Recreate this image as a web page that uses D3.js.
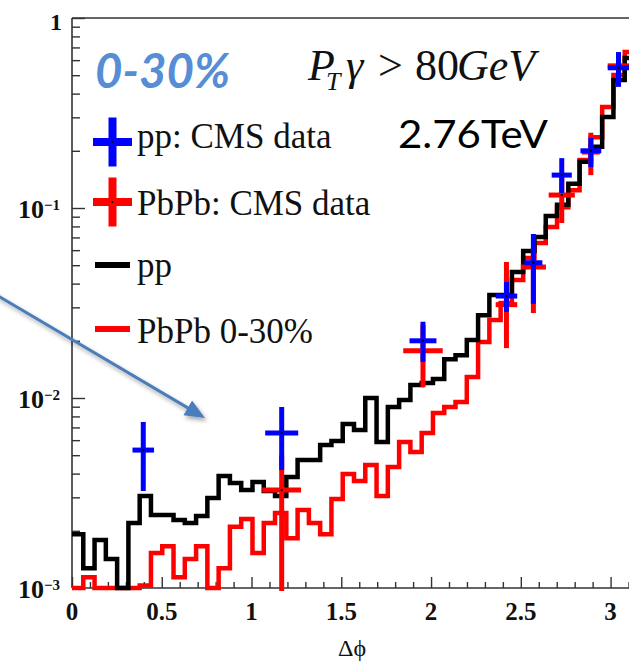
<!DOCTYPE html>
<html>
<head>
<meta charset="utf-8">
<script src="https://cdn.jsdelivr.net/npm/d3@7"></script>
<style>
  html, body { margin: 0; padding: 0; background: #fff; overflow: hidden; }
  svg { display: block; }
</style>
</head>
<body>
<svg id="chart" width="629" height="663"></svg>
<script>
// ---- histogram contents: 50 bins of width pi/50 over [0, pi] ----
const binCount = 50;
const ppHist = [
  1.92e-3, 1.27e-3, 1.79e-3, 1.42e-3, 1.00e-3, 2.20e-3, 3.05e-3, 2.42e-3, 2.42e-3, 2.28e-3,
  2.20e-3, 2.39e-3, 2.98e-3, 3.88e-3, 3.57e-3, 3.28e-3, 3.61e-3, 3.24e-3, 3.05e-3, 3.84e-3,
  4.72e-3, 4.72e-3, 5.66e-3, 5.94e-3, 7.30e-3, 6.79e-3, 1.00e-2, 5.87e-3, 8.97e-3, 9.76e-3,
  1.17e-2, 1.20e-2, 1.26e-2, 1.60e-2, 1.68e-2, 2.02e-2, 2.73e-2, 3.48e-2, 3.48e-2, 4.60e-2,
  5.94e-2, 7.03e-2, 9.08e-2, 0.104, 0.134, 0.175, 0.210, 0.301, 0.472, 0.616
];
const pbpbHist = [
  1.00e-3, 1.14e-3, 1.00e-3, 1.00e-3, 1.00e-3, 1.00e-3, 1.03e-3, 1.53e-3, 1.66e-3, 1.14e-3,
  1.42e-3, 1.66e-3, 1.00e-3, 1.27e-3, 2.10e-3, 2.31e-3, 1.53e-3, 2.20e-3, 2.48e-3, 1.83e-3,
  2.57e-3, 2.20e-3, 1.92e-3, 2.94e-3, 3.98e-3, 3.66e-3, 4.44e-3, 3.05e-3, 4.34e-3, 5.87e-3,
  5.20e-3, 6.55e-3, 8.34e-3, 8.97e-3, 9.53e-3, 1.29e-2, 1.97e-2, 2.57e-2, 3.16e-2, 4.18e-2,
  5.46e-2, 6.54e-2, 7.94e-2, 0.101, 0.124, 0.179, 0.236, 0.340, 0.501, 0.662
];

// ---- CMS data points (value, x half-width, y error band) ----
const ppX    = [0.397, 1.168, 1.955, 2.42, 2.57, 2.728, 2.89, 3.044];
const ppY    = [0.00532, 0.00654, 0.0200, 0.0344, 0.0515, 0.149, 0.200, 0.547];
const ppXerr = [0.060, 0.092, 0.075, 0.060, 0.050, 0.056, 0.058, 0.060];
const ppLow  = [0.00324, 0.00418, 0.0155, 0.0284, 0.0313, 0.120, 0.164, 0.434];
const ppHigh = [0.00748, 0.00897, 0.0252, 0.0408, 0.073, 0.183, 0.234, 0.662];

const pbpbX    = [1.168, 1.955, 2.42, 2.57, 2.728, 2.89, 3.044];
const pbpbY    = [0.00328, 0.01774, 0.031, 0.0489, 0.117, 0.197, 0.56];
const pbpbXerr = [0.108, 0.110, 0.060, 0.070, 0.073, 0.050, 0.060];
const pbpbLow  = [0.0004, 0.0114, 0.0183, 0.028, 0.0834, 0.149, 0.47];
const pbpbHigh = [0.0050, 0.0242, 0.052, 0.062, 0.145, 0.249, 0.65];

// ---- axis ticks ----
const xTickValues = [0, 0.5, 1, 1.5, 2, 2.5, 3];
const xTickLabels = ["0", "0.5", "1", "1.5", "2", "2.5", "3"];
const yTickValues = [1e-3, 1e-2, 1e-1, 1];
const yTickLabels = [["10", "\u22123"], ["10", "\u22122"], ["10", "\u22121"], ["1", ""]];

// ---- legend entries ----
const legendLabels = ["pp: CMS data", "PbPb: CMS data", "pp", "PbPb 0-30%"];
const legendColors = ["#0000ff", "#ff0000", "#000000", "#ff0000"];
const legendKinds  = ["cross", "cross", "line", "line"];

const svg = d3.select("#chart");
const serif = "'Liberation Serif', 'Times New Roman', serif";
const sans = "Lato, 'Open Sans', sans-serif";

const plot = { left: 72, top: 18, bottom: 588, right: 636 };
const x = d3.scaleLinear().domain([0, Math.PI]).range([plot.left, plot.right]);
const y = d3.scaleLog().domain([1e-3, 1]).range([plot.bottom, plot.top]);

const defs = svg.append("defs");
defs.append("clipPath").attr("id", "plotClip")
  .append("rect").attr("x", plot.left).attr("y", 0)
  .attr("width", 640 - plot.left).attr("height", plot.bottom + 3);
const shadow = defs.append("filter").attr("id", "arrowShadow")
  .attr("x", "-20%").attr("y", "-20%").attr("width", "150%").attr("height", "150%");
shadow.append("feDropShadow").attr("dx", 2).attr("dy", 3)
  .attr("stdDeviation", 2).attr("flood-color", "#000").attr("flood-opacity", 0.35);

// ---- axis ticks (inward) ----
const yMinor = [];
for (let e = -3; e < 0; e++) for (let m = 2; m <= 9; m++) yMinor.push(m * Math.pow(10, e));
svg.append("g").attr("transform", `translate(${plot.left},0)`)
  .call(d3.axisRight(y).tickValues(yMinor).tickSize(8).tickFormat(""))
  .call(g => g.select(".domain").remove())
  .call(g => g.selectAll("line").attr("stroke", "#333").attr("stroke-width", 1.4));
svg.append("g").attr("transform", `translate(${plot.left},0)`)
  .call(d3.axisRight(y).tickValues(yTickValues).tickSize(13).tickFormat(""))
  .call(g => g.select(".domain").remove())
  .call(g => g.selectAll("line").attr("stroke", "#333").attr("stroke-width", 1.4));

const xMinor = d3.range(1, 32).map(i => i / 10).filter(v => Math.abs(v * 2 - Math.round(v * 2)) > 1e-6);
svg.append("g").attr("transform", `translate(0,${plot.bottom})`)
  .call(d3.axisTop(x).tickValues(xMinor).tickSize(6).tickFormat(""))
  .call(g => g.select(".domain").remove())
  .call(g => g.selectAll("line").attr("stroke", "#333").attr("stroke-width", 1.4));
svg.append("g").attr("transform", `translate(0,${plot.bottom})`)
  .call(d3.axisTop(x).tickValues(xTickValues).tickSize(11).tickFormat(""))
  .call(g => g.select(".domain").remove())
  .call(g => g.selectAll("line").attr("stroke", "#333").attr("stroke-width", 1.4));

// ---- frame ----
const frame = svg.append("g").attr("stroke", "#333").attr("stroke-width", 1.6).attr("fill", "none");
frame.append("line").attr("x1", plot.left).attr("x2", plot.left).attr("y1", plot.top).attr("y2", plot.bottom);
frame.append("line").attr("x1", plot.left).attr("x2", plot.right).attr("y1", plot.top).attr("y2", plot.top);
frame.append("line").attr("x1", plot.left).attr("x2", plot.right).attr("y1", plot.bottom).attr("y2", plot.bottom);

// ---- tick labels ----
const xl = svg.append("g").attr("font-family", serif).attr("font-weight", "bold")
  .attr("font-size", 25).attr("fill", "#111").attr("text-anchor", "middle");
xTickValues.forEach((v, i) => {
  xl.append("text").attr("x", x(v)).attr("y", 620).text(xTickLabels[i]);
});

const yl = svg.append("g").attr("font-family", serif).attr("font-weight", "bold").attr("fill", "#111");
yTickValues.forEach((v, i) => {
  const [base, sup] = yTickLabels[i];
  if (sup) {
    const t = yl.append("text").attr("x", 18).attr("y", y(v) + 10).attr("font-size", 26);
    t.append("tspan").text(base);
    t.append("tspan").attr("dy", -8).attr("font-size", 15).text(sup);
  } else {
    yl.append("text").attr("x", 62).attr("y", y(v) + 12).attr("font-size", 24)
      .attr("text-anchor", "end").text(base);
  }
});

svg.append("text").attr("x", 352).attr("y", 656).attr("text-anchor", "middle")
  .attr("font-family", serif).attr("font-size", 24).attr("fill", "#111").text("\u0394\u03d5");

// ---- histograms ----
const binW = Math.PI / binCount;
function histPoints(vals) {
  const pts = vals.map((v, i) => [i * binW, v]);
  pts.push([Math.PI, vals[vals.length - 1]]);
  return pts;
}
const stepLine = d3.line().x(d => x(d[0])).y(d => y(d[1])).curve(d3.curveStepAfter);
const hist = svg.append("g").attr("clip-path", "url(#plotClip)");
hist.append("path").datum(histPoints(pbpbHist)).attr("d", stepLine)
  .attr("fill", "none").attr("stroke", "#ff0000").attr("stroke-width", 4.5).attr("stroke-linejoin", "miter");
hist.append("path").datum(histPoints(ppHist)).attr("d", stepLine)
  .attr("fill", "none").attr("stroke", "#000").attr("stroke-width", 4.5).attr("stroke-linejoin", "miter");

// ---- data crosses ----
function drawCrosses(g, xs, ys, xe, lo, hi, color) {
  xs.forEach((xv, i) => {
    g.append("line").attr("x1", x(xv)).attr("x2", x(xv))
      .attr("y1", y(lo[i])).attr("y2", y(hi[i]))
      .attr("stroke", color).attr("stroke-width", 5);
    g.append("line").attr("x1", x(xv - xe[i])).attr("x2", x(xv + xe[i]))
      .attr("y1", y(ys[i])).attr("y2", y(ys[i]))
      .attr("stroke", color).attr("stroke-width", 5);
    g.append("circle").attr("cx", x(xv)).attr("cy", y(ys[i])).attr("r", 1.2).attr("fill", "#000");
  });
}
const pts = svg.append("g").attr("clip-path", "url(#plotClip)");
drawCrosses(pts, pbpbX, pbpbY, pbpbXerr, pbpbLow, pbpbHigh, "#ff0000");
drawCrosses(pts, ppX, ppY, ppXerr, ppLow, ppHigh, "#0000ff");

// ---- legend ----
const legendY = [142, 202, 265, 329];
const legendBase = [148, 215, 277, 343];
const leg = svg.append("g");
legendLabels.forEach((lab, i) => {
  const cx = 112.5, cy = legendY[i];
  if (legendKinds[i] === "cross") {
    leg.append("line").attr("x1", cx - 19.5).attr("x2", cx + 19.5).attr("y1", cy).attr("y2", cy)
      .attr("stroke", legendColors[i]).attr("stroke-width", 8);
    leg.append("line").attr("x1", cx).attr("x2", cx).attr("y1", cy - 24.5).attr("y2", cy + 24.5)
      .attr("stroke", legendColors[i]).attr("stroke-width", 8);
    leg.append("circle").attr("cx", cx).attr("cy", cy).attr("r", 1).attr("fill", "#000");
  } else {
    leg.append("line").attr("x1", 95).attr("x2", 130).attr("y1", cy).attr("y2", cy)
      .attr("stroke", legendColors[i]).attr("stroke-width", 6);
  }
  leg.append("text").attr("x", 137).attr("y", legendBase[i])
    .attr("font-family", serif).attr("font-size", 35).attr("fill", "#111").text(lab);
});

// ---- annotations ----
svg.append("text").attr("x", 95).attr("y", 88)
  .attr("font-family", sans).attr("font-weight", "bold").attr("font-style", "italic")
  .attr("font-size", 47).attr("fill", "#558ed5")
  .attr("textLength", 135).attr("lengthAdjust", "spacingAndGlyphs").text("0-30%");

// P_T gamma > 80GeV as one text run with a lowered subscript
const ptl = svg.append("text").attr("y", 80).attr("font-family", serif)
  .attr("font-size", 44).attr("fill", "#111");
ptl.append("tspan").attr("x", 308).attr("font-style", "italic").text("P");
ptl.append("tspan").attr("x", 326).attr("dy", 10).attr("font-size", 26).attr("font-style", "italic").text("T");
ptl.append("tspan").attr("x", 346).attr("dy", -10).attr("font-style", "italic").text("\u03b3");
ptl.append("tspan").attr("x", 378).text(">");
ptl.append("tspan").attr("x", 415).text("80");
ptl.append("tspan").attr("x", 457).attr("font-style", "italic").text("GeV");

svg.append("text").attr("x", 398).attr("y", 148)
  .attr("font-family", sans).attr("font-size", 38).attr("fill", "#000")
  .attr("textLength", 150).attr("lengthAdjust", "spacingAndGlyphs").text("2.76TeV");

// arrow pointing into the low-delta-phi region
const arrowStart = [-6, 293.5], arrowTip = [205, 418];
const dx = arrowTip[0] - arrowStart[0], dy = arrowTip[1] - arrowStart[1];
const len = Math.hypot(dx, dy), ux = dx / len, uy = dy / len;
const headL = 20, headW = 8.5;
const bx = arrowTip[0] - ux * headL, by = arrowTip[1] - uy * headL;
const arrow = svg.append("g").attr("filter", "url(#arrowShadow)");
arrow.append("line").attr("x1", arrowStart[0]).attr("y1", arrowStart[1])
  .attr("x2", bx + ux * 2).attr("y2", by + uy * 2)
  .attr("stroke", "#4a7ebb").attr("stroke-width", 3);
arrow.append("path")
  .attr("d", `M${arrowTip[0]},${arrowTip[1]} L${bx - uy * headW},${by + ux * headW} L${bx + uy * headW},${by - ux * headW} Z`)
  .attr("fill", "#4a7ebb");
</script>
</body>
</html>
